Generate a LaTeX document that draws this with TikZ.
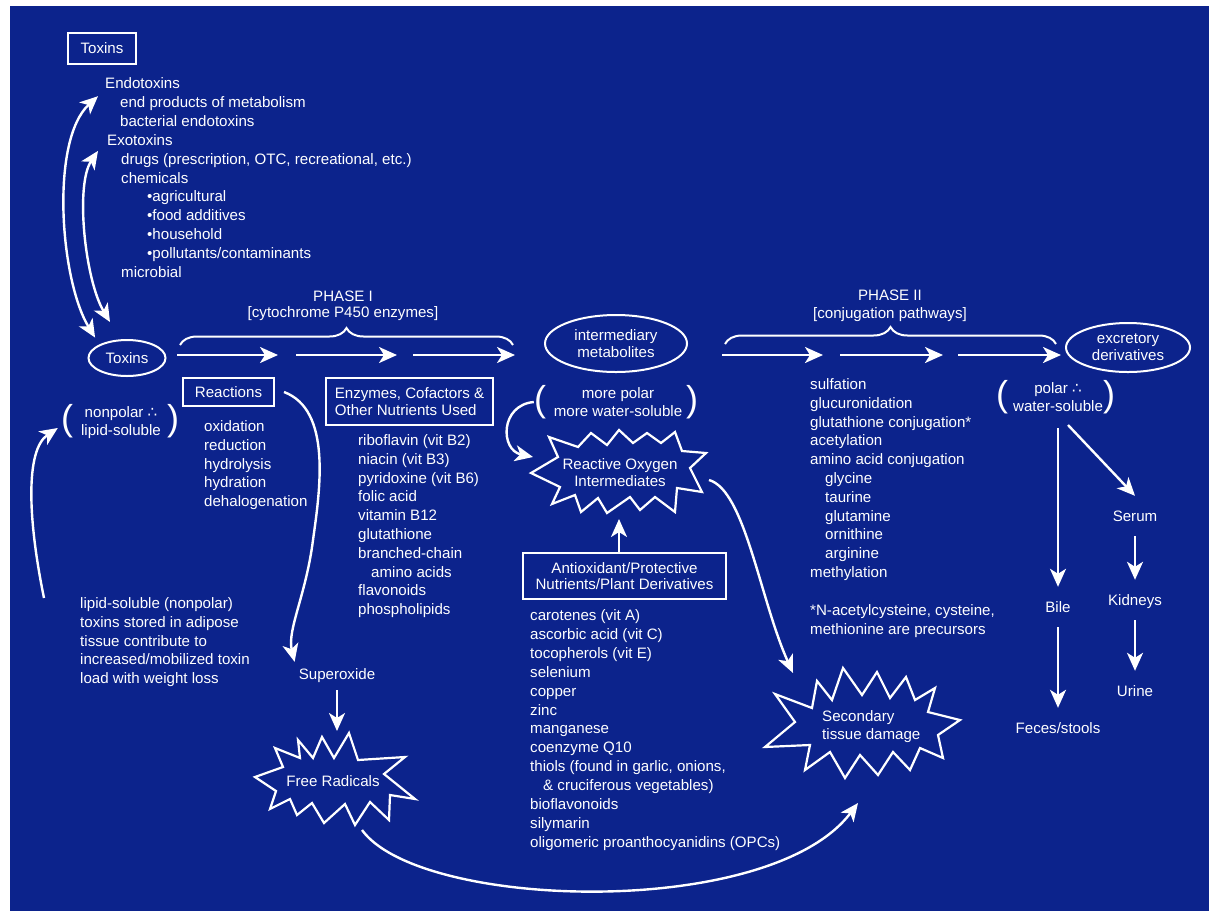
\documentclass[tikz,border=0pt]{standalone}
\usepackage{fontspec}
\setmainfont{Liberation Sans}
\newfontfamily\djv{DejaVu Sans}
\usetikzlibrary{arrows.meta,shapes.geometric,decorations.pathreplacing}
\definecolor{bgblue}{RGB}{12,35,140}
\newcommand\fsz{\fontsize{15.1}{18.8}\selectfont}
\newcommand\tfore{{\djv ∴}}
\begin{document}
\begin{tikzpicture}[x=1pt,y=-1pt,
 txt/.style={text=white,inner sep=0pt,font=\fsz,text height=12.5pt,text depth=1.5pt,anchor=west},
 ctxt/.style={text=white,inner sep=0pt,font=\fsz,text height=12.5pt,text depth=1.5pt},
 boxnode/.style={draw=white,line width=2pt,text=white,font=\fsz,inner sep=0pt},
 ellnode/.style={ellipse,draw=white,line width=2pt,text=white,font=\fsz,inner sep=0pt,align=center},
 lbl/.style={text=white,font=\fsz,inner xsep=0pt,inner ysep=13pt,text height=12.5pt,text depth=1.5pt},
 paren/.style={text=white,inner sep=0pt,font=\fontsize{36}{36}\selectfont},
 tipshape/.tip={Stealth[length=18pt,width=16pt,inset=5pt]},
 arr/.style={draw=white,line width=2.4pt,-tipshape},
 dblarr/.style={draw=white,line width=2.4pt,tipshape-tipshape},
 brc/.style={draw=white,line width=2pt,decorate,decoration={brace,amplitude=17pt}},
 burstline/.style={draw=white,line width=2.2pt,line join=miter,miter limit=6}
]
\useasboundingbox (0,0) rectangle (1209,911);
\fill[white] (0,0) rectangle (1209,911);
\fill[bgblue] (10,6) rectangle (1209,911);

% ---------- toxins list ----------
\node[boxnode,minimum width=68pt,minimum height=31pt] (toxbox) at (102,48) {Toxins};
\foreach \dx/\t [count=\i from 0] in {0/{Endotoxins},15/{end products of metabolism},15/{bacterial endotoxins},2/{Exotoxins},16/{drugs (prescription, OTC, recreational, etc.)},16/{chemicals},42/{•agricultural},42/{•food additives},42/{•household},42/{•pollutants/contaminants},16/{microbial}}
  \node[txt] (tox\i) at ({105+\dx},{83+18.9*\i}) {\t};

\node[ellnode,minimum width=77pt,minimum height=36pt] (toxell) at (127,358) {Toxins};

\draw[dblarr] ([shift={(-4,-7)}]toxell.north west) .. controls (60,280) and (50,140) .. ([shift={(-7,6)}]tox0.south west);
\draw[dblarr] ([shift={(-17,-17)}]toxell.north) .. controls (85,280) and (75,185) .. ([shift={(-9,4)}]tox3.south west);

% ---------- phase labels and braces ----------
\node[ctxt] (ph1a) at (343,296) {PHASE I};
\node[ctxt] (ph1b) at (343,312) {[cytochrome P450 enzymes]};
\node[ctxt] (ph2a) at (890,295) {PHASE II};
\node[ctxt] (ph2b) at (890,313) {[conjugation pathways]};
\draw[brc] (180,345) -- (513,345);
\draw[brc] (725,344) -- (1056,344);
\foreach \a/\b [count=\k] in {177/278,296/397,413/515,722/823,840/943,958/1061}{
  \coordinate (ps\k) at (\a,355);
  \coordinate (pe\k) at (\b,355);
  \draw[arr] (ps\k) -- (pe\k);
}

% ---------- reactions ----------
\node[boxnode,minimum width=91pt,minimum height=28pt] (reac) at (228.5,392) {Reactions};
\foreach \t [count=\i from 0] in {oxidation,reduction,hydrolysis,hydration,dehalogenation}
  \node[txt] (rx\i) at (204,{426+18.8*\i}) {\t};

% ---------- enzymes ----------
\node[boxnode,minimum width=167pt,minimum height=47pt,align=left] (enz) at (409.5,401.5) {Enzymes, Cofactors \&\\[-2pt]Other Nutrients Used};
\foreach \dx/\t [count=\i from 0] in {0/{riboflavin (vit B2)},0/{niacin (vit B3)},0/{pyridoxine (vit B6)},0/{folic acid},0/{vitamin B12},0/{glutathione},0/{branched-chain},13/{amino acids},0/{flavonoids},0/{phospholipids}}
  \node[txt] (en\i) at ({358+\dx},{440+18.8*\i}) {\t};

% ---------- nonpolar ----------
\node[paren] (npL) at (67,421) {(};
\node[paren] (npR) at (173,421) {)};
\node[ctxt] (np1) at (121,412) {nonpolar \tfore};
\node[ctxt] (np2) at (121,430) {lipid-soluble};

\foreach \t [count=\i from 0] in {lipid-soluble (nonpolar),toxins stored in adipose,tissue contribute to,increased/mobilized toxin,load with weight loss}
  \node[txt] (lp\i) at (80,{603+18.8*\i}) {\t};
\draw[arr] ([shift={(-36,-5)}]lp0.west) .. controls (28,520) and (25,450) .. ([shift={(-3,7)}]npL.west);

% ---------- superoxide / free radicals ----------
\node[ctxt] (supox) at (337,674) {Superoxide};
\draw[arr] ([xshift=9pt]reac.east) .. controls (332,410) and (320,490) .. (313,540) .. controls (306,595) and (287,630) .. ([shift={(-4,-5)}]supox.north west);
\draw[burstline] (255,777) -- (283,767) -- (275,748) -- (300,758) -- (298,740) -- (313,758) -- (322,737) -- (334,758) -- (349,733) -- (358,760) -- (405,757) -- (384,774) -- (415,799) -- (390,795) -- (389,820) -- (370,802) -- (355,825) -- (345,804) -- (324,823) -- (312,803) -- (297,815) -- (290,799) -- (270,809) -- (276,791) -- cycle;
\node[ctxt] (frt) at (333,781) {Free Radicals};
\coordinate (frtop) at (337,731);
\draw[arr,shorten <=9pt] (supox.south) -- (frtop);

% ---------- intermediary metabolites ----------
\node[ellnode,minimum width=142pt,minimum height=57pt] (imeta) at (616,343.5) {intermediary\\[-1pt]metabolites};
\node[paren] (mpL) at (540,402) {(};
\node[paren] (mpR) at (692,402) {)};
\node[ctxt] (mp1) at (618,393) {more polar};
\node[ctxt] (mp2) at (618,411) {more water-soluble};

\draw[burstline] (531,473) -- (558,457) -- (549,437) -- (578,447) -- (591,433) -- (607,445) -- (619,430) -- (633,443) -- (647,433) -- (661,443) -- (675,432) -- (682,451) -- (706,453) -- (690,468) -- (702,492) -- (677,488) -- (675,512) -- (655,497) -- (640,510) -- (630,497) -- (607,513) -- (598,498) -- (581,512) -- (575,495) -- (552,504) -- (560,487) -- cycle;
\node[ctxt] (roi1) at (620,464) {Reactive Oxygen};
\node[ctxt] (roi2) at (620,481) {Intermediates};
\coordinate (roiL) at (533,457);
\draw[arr] (mpL.west) .. controls (500,405) and (500,450) .. (roiL);

\node[boxnode,minimum width=203pt,minimum height=46pt,align=center] (anti) at (624.5,576) {Antioxidant/Protective\\[-2pt]Nutrients/Plant Derivatives};
\coordinate (roibot) at (619,519);
\draw[arr] (anti.north -| roibot) -- (roibot);
\foreach \dx/\t [count=\i from 0] in {0/{carotenes (vit A)},0/{ascorbic acid (vit C)},0/{tocopherols (vit E)},0/{selenium},0/{copper},0/{zinc},0/{manganese},0/{coenzyme Q10},0/{thiols (found in garlic, onions,},13/{\& cruciferous vegetables)},0/{bioflavonoids},0/{silymarin},0/{oligomeric proanthocyanidins (OPCs)}}
  \node[txt] (ax\i) at ({530+\dx},{615+18.9*\i}) {\t};

% ---------- secondary tissue damage ----------
\draw[burstline] (775,694) -- (812,708) -- (817,681) -- (832,700) -- (843,668) -- (862,695) -- (877,672) -- (890,698) -- (906,677) -- (915,700) -- (935,688) -- (928,712) -- (960,720) -- (938,735) -- (943,758) -- (920,748) -- (910,770) -- (893,752) -- (878,775) -- (860,755) -- (845,778) -- (830,752) -- (805,770) -- (810,745) -- (765,747) -- (795,722) -- cycle;
\node[txt] (sec1) at (822,716) {Secondary};
\node[txt] (sec2) at (822,734) {tissue damage};
\coordinate (roiR) at (709,480);
\coordinate (secTL) at (793,673);
\draw[arr] (roiR) .. controls (745,490) and (760,600) .. (secTL);
\coordinate (frB) at (362,830);
\coordinate (secB) at (858,803);
\draw[arr] (frB) .. controls (420,910) and (770,920) .. (secB);

% ---------- phase II ----------
\foreach \dx/\t [count=\i from 0] in {0/{sulfation},0/{glucuronidation},0/{glutathione conjugation*},0/{acetylation},0/{amino acid conjugation},15/{glycine},15/{taurine},15/{glutamine},15/{ornithine},15/{arginine},0/{methylation}}
  \node[txt] (c\i) at ({810+\dx},{384+18.8*\i}) {\t};
\node[txt] (fn1) at (810,610) {*N-acetylcysteine, cysteine,};
\node[txt] (fn2) at (810,629) {methionine are precursors};

% ---------- excretion ----------
\node[ellnode,minimum width=124pt,minimum height=49pt] (excr) at (1128,347.5) {excretory\\[-2pt]derivatives};
\node[paren] (plL) at (1002,397) {(};
\node[paren] (plR) at (1109,397) {)};
\node[ctxt] (pl1) at (1058,388) {polar \tfore};
\node[ctxt] (pl2) at (1058,406) {water-soluble};

\node[lbl] (serum) at (1135,516) {Serum};
\node[lbl] (kid) at (1135,600) {Kidneys};
\node[lbl] (urine) at (1135,691) {Urine};
\node[lbl] (bile) at (1058,607) {Bile};
\node[lbl] (feces) at (1058,728) {Feces/stools};
\coordinate (bstart) at (1058,428);
\coordinate (sstart) at (1068,425);
\draw[arr] (bstart) -- (bile.north);
\draw[arr] (sstart) -- (serum.north);
\draw[arr] (serum.south) -- (kid.north);
\draw[arr] (kid.south) -- (urine.north);
\draw[arr] (bile.south) -- (feces.north);
\end{tikzpicture}
\end{document}
